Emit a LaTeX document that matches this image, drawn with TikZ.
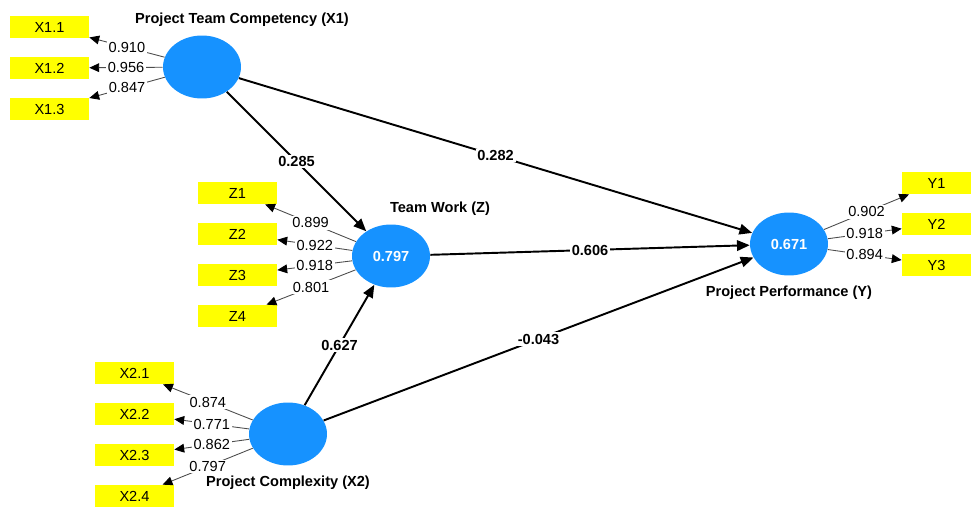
\documentclass[tikz,border=0pt]{standalone}
\usepackage{fontspec}
\setmainfont{Liberation Sans}
\usetikzlibrary{arrows.meta}
\usetikzlibrary{shapes.geometric}

\definecolor{lvblue}{RGB}{22,146,255}
\definecolor{mvyellow}{RGB}{255,255,0}

\begin{document}
\begin{tikzpicture}[x = 0.02cm, y = -0.02cm, font = \fontsize{8.3}{10}\selectfont,
	lv/.style={ellipse, fill = lvblue, minimum width = 1.56cm, minimum height = 1.26cm, inner sep = 0pt, text = white, font = \fontsize{8.3}{10}\selectfont\bfseries},
	mv/.style={rectangle, fill = mvyellow, minimum width = 1.58cm, minimum height = 0.44cm, inner sep = 0pt},
	structural/.style={draw = black, line width = 1.1pt, -{Triangle[length = 7.2pt, width = 6pt]}},
	loading/.style={draw = black!70, line width = 0.5pt, -{Triangle[length = 5.6pt, width = 5pt, color = black]}},
	coef/.style={fill = white, inner sep = 1pt, font = \fontsize{8.3}{10}\selectfont\bfseries},
	load/.style={fill = white, inner sep = 1pt},
	title/.style={font = \fontsize{8.3}{10}\selectfont\bfseries}]
	
	\useasboundingbox (0,0) rectangle (971,507);
	
	% latent variables
	\node[lv] (x1) at (202,67) {};
	\node[lv] (tw) at (391,256) {0.797};
	\node[lv] (pp) at (789,244) {0.671};
	\node[lv] (x2) at (288,434) {};
	
	\node[title] (x1t) at (242,20) {Project Team Competency (X1)};
	\node[title] (twt) at (440,209) {Team Work (Z)};
	\node[title] (ppt) at (789,293) {Project Performance (Y)};
	\node[title] (x2t) at (288,483) {Project Complexity (X2)};
	
	% indicators
	\foreach \n/\y in {1/27,2/68,3/109}
		\node[mv] (x1\n) at (49.5,\y) {X1.\n};
	\foreach \n/\y in {1/193,2/234,3/275,4/316}
		\node[mv] (z\n) at (237.5,\y) {Z\n};
	\foreach \n/\y in {1/373,2/414,3/455,4/496}
		\node[mv] (x2\n) at (134.5,\y) {X2.\n};
	\foreach \n/\y in {1/183,2/224,3/265}
		\node[mv, minimum width = 1.38cm] (y\n) at (936.5,\y) {Y\n};
	
	% outer loadings
	\foreach \n/\v in {1/0.910,2/0.956,3/0.847}
		\draw[loading] (x1) -- node[load]{\v} (x1\n);
	\foreach \n/\v in {1/0.899,2/0.922,3/0.918,4/0.801}
		\draw[loading] (tw) -- node[load]{\v} (z\n);
	\foreach \n/\v in {1/0.874,2/0.771,3/0.862,4/0.797}
		\draw[loading] (x2) -- node[load]{\v} (x2\n);
	\foreach \n/\v in {1/0.902,2/0.918,3/0.894}
		\draw[loading] (pp) -- node[load]{\v} (y\n);
	
	% path coefficients
	\draw[structural] (x1) -- node[coef]{0.285} (tw);
	\draw[structural] (x1) -- node[coef]{0.282} (pp);
	\draw[structural] (tw) -- node[coef]{0.606} (pp);
	\draw[structural] (x2) -- node[coef]{0.627} (tw);
	\draw[structural] (x2) -- node[coef]{-0.043} (pp);
	
\end{tikzpicture}
\end{document}
